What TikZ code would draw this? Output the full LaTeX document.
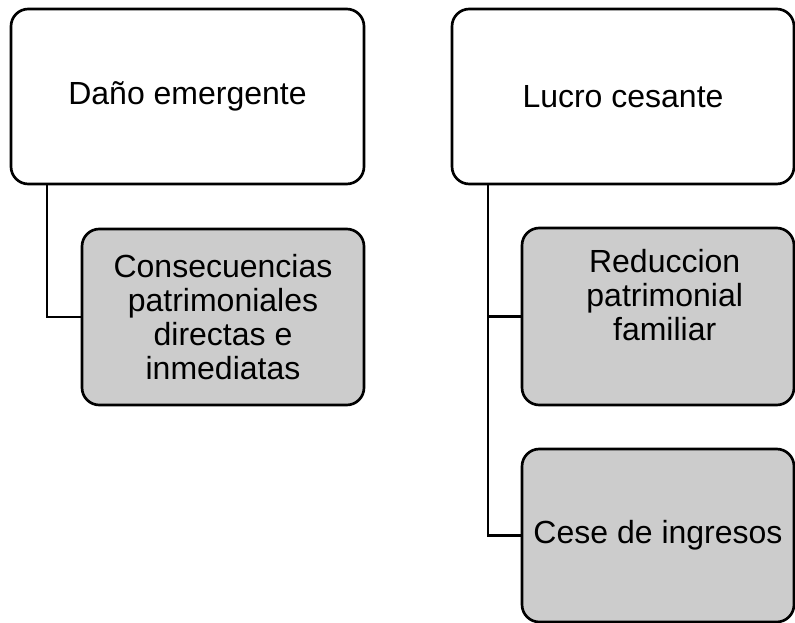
\documentclass[tikz,border=0pt]{standalone}
\usepackage{fontspec}
\setmainfont{Liberation Sans}
\usetikzlibrary{positioning}

\tikzset{every picture/.style={line width=2pt}}
\tikzset{
  topbox/.style={draw=black, fill=white, rounded corners=13pt, align=center,
    font=\fontsize{24}{25.5}\selectfont, inner sep=0pt},
  subbox/.style={topbox, fill=boxgray},
  boxtext/.style={align=center, font=\fontsize{24}{25.5}\selectfont, inner sep=0pt}
}
\definecolor{boxgray}{RGB}{204,204,204}

\begin{document}
\begin{tikzpicture}[x=0.75pt,y=0.75pt,yscale=-1,xscale=1]
\path[use as bounding box] (0,0) rectangle (795,623);

%Shape: Rounded Rect [id:dano]
\node[topbox, minimum width=353*0.75pt, minimum height=175*0.75pt] (dano) at (187.5,96.5) {Daño emergente};
%Shape: Rounded Rect [id:cons]
\node[subbox, minimum width=282*0.75pt, minimum height=176*0.75pt] (cons) at (223,317) {Consecuencias\\patrimoniales\\directas e\\inmediatas};

%Shape: Rounded Rect [id:lucro]
\node[topbox, minimum width=342*0.75pt, minimum height=175*0.75pt] (lucro) at (623,96.5) {Lucro cesante};
%Shape: Rounded Rect [id:red]
\node[subbox, minimum width=272*0.75pt, minimum height=177*0.75pt] (red) at (658,316.5) {};
% Text Node
\node[boxtext, below=16pt of red.north, xshift=5pt] (redtxt) {Reduccion\\patrimonial\\familiar};
%Shape: Rounded Rect [id:cese]
\node[subbox, minimum width=272*0.75pt, minimum height=173*0.75pt] (cese) at (658,535.5) {Cese de ingresos};

%Straight Lines [id:dtrunk]
\coordinate (dtrunk) at (47,184);
\draw (dtrunk) |- (cons.west);
%Straight Lines [id:ltrunk]
\coordinate (ltrunk) at (488,184);
\draw (ltrunk) |- (red.west);
\draw (ltrunk) |- (cese.west);

\end{tikzpicture}
\end{document}
